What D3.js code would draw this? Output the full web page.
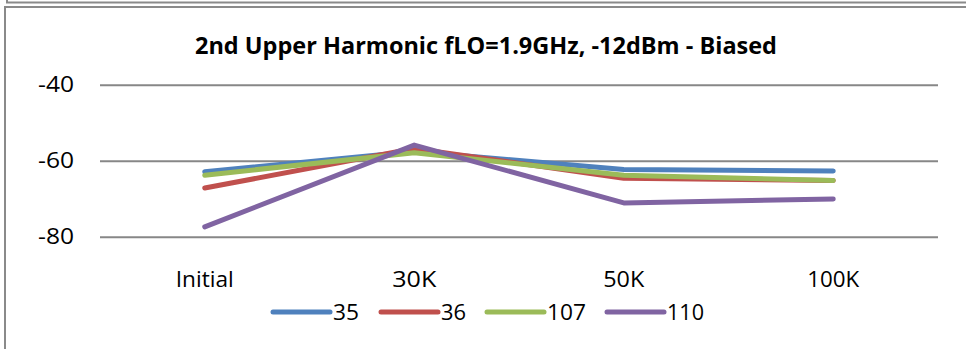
<!DOCTYPE html>
<html><head><meta charset="utf-8">
<script src="https://cdn.jsdelivr.net/npm/d3@7"></script>
<style>
html,body{margin:0;padding:0;background:#fff;}
svg{display:block;}
text{font-family:"Open Sans",sans-serif;fill:#000;}
</style></head>
<body>
<svg id="c" width="966" height="349"></svg>
<script>
const categories = ["Initial", "30K", "50K", "100K"];
const seriesNames = ["35", "36", "107", "110"];
const s35  = [-62.9, -57.6, -62.3, -62.7];
const s36  = [-67.2, -56.8, -64.6, -65.2];
const s107 = [-63.8, -57.9, -63.8, -65.2];
const s110 = [-77.4, -55.9, -71.1, -70.1];
const yTicks = [-40, -60, -80];
const yTickLabels = ["-40", "-60", "-80"];
const colors = ["#4F81BD", "#C0504D", "#9BBB59", "#8064A2"];
const title = "2nd Upper Harmonic fLO=1.9GHz, -12dBm - Biased";

const series = [s35, s36, s107, s110].map((v, i) => ({name: seriesNames[i], values: v, color: colors[i]}));

const svg = d3.select("#c");

// frames
svg.append("path").attr("d", "M7,0 V2.5 H966").attr("fill", "none").attr("stroke", "#8a8a8a").attr("stroke-width", 2);
svg.append("path").attr("d", "M5,349 V7 H966").attr("fill", "none").attr("stroke", "#8a8a8a").attr("stroke-width", 2);

const x = d3.scaleBand().domain(categories).range([100, 938]);
const y = d3.scaleLinear().domain([-80, -40]).range([236.7, 84.7]);
const cx = d => x(d) + x.bandwidth() / 2;

// title
svg.append("text").attr("x", 486).attr("y", 53.5).attr("text-anchor", "middle")
  .attr("font-size", 23).attr("font-weight", "bold")
  .attr("textLength", 582).attr("lengthAdjust", "spacingAndGlyphs").text(title);

// gridlines
const yAxis = d3.axisLeft(y).tickValues(yTicks).tickSize(-(938 - 100)).tickPadding(26)
  .tickFormat((d, i) => yTickLabels[i]);
const ga = svg.append("g").attr("transform", "translate(100,0)").call(yAxis);
ga.select(".domain").remove();
ga.selectAll(".tick line").attr("stroke", "#878787").attr("stroke-width", 2);
ga.selectAll(".tick text").attr("font-size", 21).attr("fill", "#000").attr("dy", "0.34em")
  .attr("textLength", 36).attr("lengthAdjust", "spacingAndGlyphs")
  .style("font-family", '"Open Sans",sans-serif');

// x axis labels
const xAxis = d3.axisBottom(x).tickSize(0).tickPadding(0);
const gx = svg.append("g").attr("transform", "translate(0,272)").call(xAxis);
gx.select(".domain").remove();
const xw = {"Initial": 58, "30K": 44, "50K": 41, "100K": 52};
gx.selectAll(".tick text").attr("font-size", 21).attr("fill", "#000").attr("dy", "0.71em")
  .attr("textLength", d => xw[d]).attr("lengthAdjust", "spacingAndGlyphs")
  .style("font-family", '"Open Sans",sans-serif');

// lines
const line = d3.line().x((d, i) => cx(categories[i])).y(d => y(d));
svg.append("g").selectAll("path").data(series).join("path")
  .attr("d", d => line(d.values))
  .attr("fill", "none").attr("stroke", d => d.color).attr("stroke-width", 5)
  .attr("stroke-linecap", "round").attr("stroke-linejoin", "round");

// legend
const legX = [273, 381, 487, 607];
const legW = {"35": 26, "36": 25, "107": 39, "110": 37};
const lg = svg.append("g").selectAll("g").data(series).join("g")
  .attr("transform", (d, i) => `translate(${legX[i]},312)`);
lg.append("line").attr("x1", 0).attr("x2", 57).attr("y1", 0).attr("y2", 0)
  .attr("stroke", d => d.color).attr("stroke-width", 5).attr("stroke-linecap", "round");
lg.append("text").attr("x", 60).attr("y", 7.5).attr("font-size", 21)
  .attr("textLength", d => legW[d.name]).attr("lengthAdjust", "spacingAndGlyphs")
  .text(d => d.name);
</script>
</body></html>
